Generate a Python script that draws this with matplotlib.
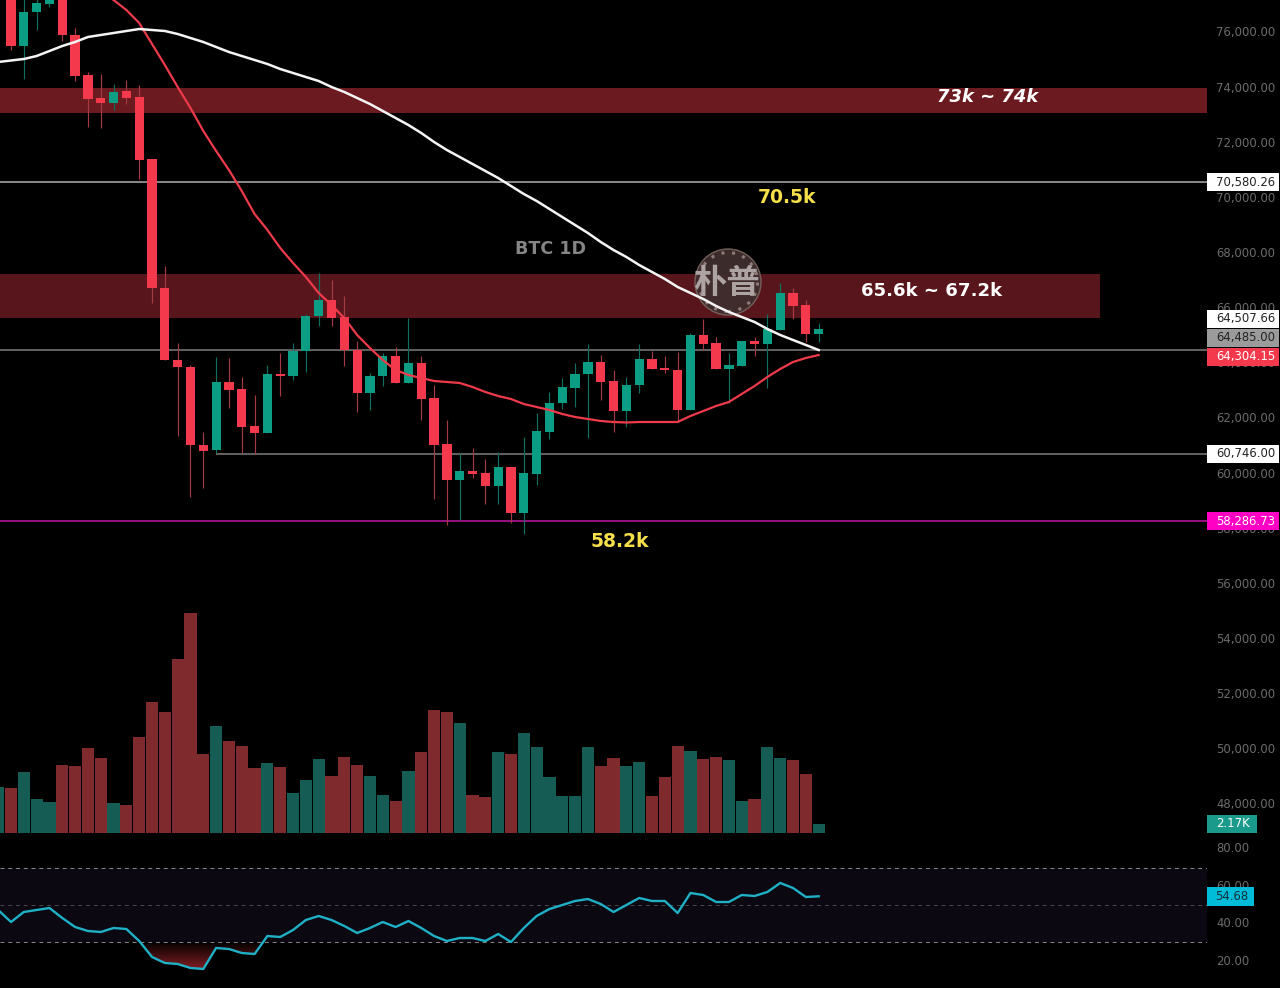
import numpy as np
import matplotlib
matplotlib.use("Agg")
import matplotlib.pyplot as plt
from matplotlib.patches import Rectangle, Circle
from matplotlib.transforms import blended_transform_factory

# Daily BTC candles, first session sits just above the visible window
opens = [78100, 77704, 75492, 76725, 77015, 77450, 75891, 74440, 73606, 73424, 73859, 73642, 71393, 66714,
         64103, 63849, 61020, 60838, 63305, 63051, 61709, 61455, 63595, 63522, 64429, 65699, 66279, 65662,
         64465, 62906, 63522, 64248, 63269, 63994, 62725, 61056, 59750, 60077, 60004, 59533, 60222, 58553,
         59968, 61491, 62543, 63087, 63595, 64030, 63341, 62253, 63196, 64139, 63813, 63740, 62289, 65010,
         64719, 63776, 63885, 64792, 64683, 65191, 66533, 66098, 65046]
highs = [79000, 78248, 77704, 77523, 77523, 77450, 76144, 74549, 74476, 74113, 74258, 74077, 71393, 67512,
         64719, 63921, 61491, 64212, 64175, 63486, 62833, 63921, 64357, 64719, 65771, 67258, 67004, 66424,
         64792, 63631, 64357, 64574, 65626, 64248, 63196, 61927, 60730, 60911, 60512, 60766, 60222, 61310,
         62180, 62942, 63450, 63994, 64683, 64284, 63740, 63486, 64683, 64429, 64248, 64393, 65082, 65590,
         64937, 64357, 64792, 64937, 65771, 66896, 66714, 66279, 65445]
lows = [77900, 75347, 74295, 76072, 76906, 75673, 74222, 72554, 72517, 73170, 73388, 70668, 66170, 64103,
        61346, 59134, 59460, 60730, 62362, 60730, 60693, 61455, 62797, 63377, 63668, 65336, 65336, 63885,
        62217, 62289, 63160, 63269, 63269, 61927, 59061, 58118, 58300, 59823, 58880, 58880, 58191, 57792,
        59569, 61237, 62326, 62398, 61274, 62652, 61491, 61673, 62906, 63776, 63631, 61854, 62289, 64465,
        63776, 62543, 63885, 64248, 63087, 65191, 65590, 64756, 64756]
closes = [78700, 75492, 76725, 77051, 77233, 75891, 74403, 73569, 73424, 73823, 73606, 71357, 66714, 64103,
          63849, 61020, 60802, 63305, 63015, 61673, 61455, 63595, 63522, 64429, 65699, 66279, 65626, 64465,
          62906, 63522, 64248, 63269, 63994, 62688, 61020, 59750, 60077, 59968, 59533, 60222, 58553, 60004,
          61528, 62543, 63124, 63595, 64030, 63305, 62253, 63196, 64139, 63776, 63740, 62289, 65010, 64683,
          63776, 63921, 64792, 64683, 65227, 66533, 66061, 65046, 65227]
volumes = [11.08, 10.84, 14.70, 8.19, 7.47, 16.39, 16.14, 20.48, 18.07, 7.23, 6.75, 23.13, 31.57, 29.16,
           41.93, 53.01, 19.04, 25.78, 22.17, 20.96, 15.66, 16.87, 15.90, 9.64, 12.77, 17.83, 13.73, 18.31,
           16.39, 13.73, 9.16, 7.71, 14.94, 19.52, 29.64, 29.16, 26.51, 9.16, 8.67, 19.52, 19.04, 24.10,
           20.72, 13.49, 8.92, 8.92, 20.72, 16.14, 18.07, 16.14, 17.11, 8.92, 13.49, 20.96, 19.76, 17.83,
           18.31, 17.59, 7.71, 8.19, 20.72, 18.07, 17.59, 14.22, 2.17]
slow_ma = [74911, 74966, 75020, 75129, 75310, 75492, 75637, 75818, 75891, 75963, 76036, 76108, 76072, 76036,
           75927, 75782, 75637, 75455, 75274, 75129, 74984, 74839, 74657, 74512, 74367, 74222, 74005, 73823,
           73606, 73388, 73134, 72880, 72626, 72336, 72010, 71719, 71466, 71212, 70958, 70704, 70414, 70124,
           69870, 69580, 69289, 68999, 68709, 68383, 68092, 67839, 67548, 67295, 67041, 66751, 66533, 66315,
           66061, 65844, 65662, 65481, 65227, 65010, 64828, 64647, 64465]
fast_ma = [77450, 77160, 76797, 76326, 75564, 74802, 74005, 73243, 72409, 71683, 70994, 70232, 69398, 68818,
           68165, 67621, 67113, 66533, 66098, 65626, 65010, 64538, 64103, 63740, 63559, 63450, 63341, 63305,
           63269, 63124, 62942, 62797, 62688, 62507, 62398, 62289, 62144, 62035, 61963, 61891, 61854, 61836,
           61854, 61854, 61854, 61854, 62072, 62253, 62435, 62580, 62870, 63160, 63487, 63776, 64030, 64175,
           64284]
rsi = [47.33, 40.90, 46.26, 47.33, 48.40, 43.04, 38.22, 36.08, 35.55, 37.69, 37.15, 30.72, 22.16, 18.94,
       18.40, 16.26, 15.73, 26.98, 26.44, 24.30, 23.76, 33.40, 32.87, 36.62, 41.97, 44.12, 41.97, 38.76,
       35.01, 37.69, 40.90, 38.22, 41.44, 37.69, 33.40, 30.72, 32.33, 32.33, 30.72, 34.47, 30.19, 37.69,
       44.12, 47.86, 50.00, 52.15, 53.22, 50.54, 46.26, 50.00, 53.76, 52.15, 52.15, 45.72, 56.43, 55.36,
       51.61, 51.61, 55.36, 54.83, 56.97, 61.79, 59.11, 54.29, 54.68]

price_ticks = list(range(48000, 78000, 2000))
rsi_ticks = [20, 40, 60, 80]
zones = [(73086, 74006, 93.3, "#6b1a20"), (65656, 67256, 84.95, "#58161c")]

# Series above were sampled against a scale 36 USD low; bring them onto the axis
FEED_ADJUST = 36
opens, highs, lows, closes = [np.array(a) + FEED_ADJUST for a in (opens, highs, lows, closes)]
slow_ma, fast_ma = [np.array(a) + FEED_ADJUST for a in (slow_ma, fast_ma)]

UP, DOWN = "#0b9e84", "#f5394c"
UP_WICK, DOWN_WICK = "#0d6f60", "#a63a44"
UP_VOL, DOWN_VOL = "#155c54", "#7f2b2d"
GREY = "#6c6c6c"
W, H = 1280, 988
PANE_W = 1207

plt.rcParams["font.family"] = ["DejaVu Sans"]
fig = plt.figure(figsize=(W / 100, H / 100), dpi=100, facecolor="black")


def pane(top, bottom):
    ax = fig.add_axes([0, 1 - bottom / H, PANE_W / W, (bottom - top) / H])
    ax.set_facecolor("none")
    for s in ax.spines.values():
        s.set_visible(False)
    ax.set_xlim(-0.858, 93.29)
    ax.set_xticks([])
    return ax


def style_right_ticks(ax, ticks, fmt):
    ax.yaxis.tick_right()
    ax.set_yticks(ticks)
    ax.set_yticklabels([fmt(t) for t in ticks], color=GREY, fontsize=8.4, va="center")
    ax.tick_params(axis="y", length=0, pad=6.5)


def tag(ax, y, text, bg, fg, height, width=72, text_x=38.5):
    tr = blended_transform_factory(ax.transAxes, ax.transData)
    ax.add_patch(Rectangle((1, y - height / 2), width / PANE_W, height, transform=tr, facecolor=bg,
                           edgecolor="none", clip_on=False, zorder=20))
    ax.text(1 + text_x / PANE_W, y, text, transform=tr, color=fg, fontsize=8.4, ha="center",
            va="center", zorder=21, clip_on=False)


idx = np.arange(-1, len(opens) - 1)
is_up = closes >= opens

# Price pane
ax = pane(0, 840)
ax.set_ylim(46729, 77196)
style_right_ticks(ax, price_ticks, lambda t: f"{t:,.2f}")

for lo, hi, xmax, col in zones:
    ax.fill_between([-0.858, xmax], lo, hi, color=col, lw=0, zorder=1)

ax.hlines(70580.26, -0.858, 93.29, color="#a0a0a0", lw=1.2, zorder=2)
ax.hlines(64485.00, -0.858, 93.29, color="#7d7d7d", lw=1.1, zorder=2)
ax.hlines(60746.00, 16, 93.29, color="#7d7d7d", lw=1.1, zorder=2)
ax.hlines(58286.73, -0.858, 93.29, color="#a4128e", lw=1.3, zorder=2)

ax.vlines(idx, lows, highs, colors=[UP_WICK if u else DOWN_WICK for u in is_up], lw=0.85, zorder=3)
body_lo = np.minimum(opens, closes)
body_h = np.abs(closes - opens)
ax.bar(idx, body_h, bottom=body_lo, width=0.72, color=[UP if u else DOWN for u in is_up], lw=0, zorder=4)

ax.plot(idx[-len(fast_ma):], fast_ma, color="#ee3a4a", lw=1.6, zorder=5, solid_joinstyle="round")

# Round badge behind the slow average
bx, by = 55.9, 66930
ax.add_patch(Circle((728, H - 282), 33, transform=None, facecolor="#3f2e2d", edgecolor="#77645f",
                    lw=1.0, zorder=5, alpha=0.95))
ax.add_patch(Circle((728, H - 282), 29.5, transform=None, facecolor="none", edgecolor="#8d7c78",
                    lw=2.2, ls=(0, (1, 2.5)), zorder=5))
ax.text(bx, by, "朴普", family=["Noto Sans CJK SC", "DejaVu Sans"], fontweight="bold", fontsize=24,
        color="#ada3a2", ha="center", va="center", zorder=5)

ax.plot(idx, slow_ma, color="#f4f4f4", lw=1.8, zorder=6, solid_joinstyle="round")

ax.text(76.2, 73680, "73k ~ 74k", color="white", fontsize=12.9, fontweight="bold", style="italic",
        ha="center", va="center", zorder=7)
ax.text(60.5, 70050, "70.5k", color="#f5e04a", fontsize=13.5, fontweight="bold", ha="center", va="center", zorder=7)
ax.text(42.1, 68165, "BTC 1D", color="#858585", fontsize=12.6, fontweight="bold", ha="center", va="center", zorder=7)
ax.text(71.8, 66640, "65.6k ~ 67.2k", color="white", fontsize=13.1, fontweight="bold", ha="center", va="center", zorder=7)
ax.text(47.5, 57540, "58.2k", color="#f5e04a", fontsize=13.5, fontweight="bold", ha="center", va="center", zorder=7)

TAG_H = 653
tag(ax, 70580.26, "70,580.26", "white", "#222222", TAG_H)
tag(ax, 65626, "64,507.66", "white", "#222222", TAG_H)
tag(ax, 64945, "64,485.00", "#9b9b9b", "#222222", TAG_H)
tag(ax, 64265, "64,304.15", "#f5394c", "white", TAG_H)
tag(ax, 60746, "60,746.00", "white", "#222222", TAG_H)
tag(ax, 58286.73, "58,286.73", "#ff00c4", "white", TAG_H)

# Volume histogram
vax = pane(600, 833)
vax.set_ylim(0, 56.14)
vax.set_yticks([])
vax.bar(idx, volumes, width=0.95, color=[UP_VOL if u else DOWN_VOL for u in is_up], lw=0)
tag(vax, 2.17, "2.17K", "#1a9a8a", "white", 4.4, width=50, text_x=26)

# RSI pane
rax = pane(840, 988)
rax.set_ylim(5.55, 84.82)
style_right_ticks(rax, rsi_ticks, lambda t: f"{t:.2f}")
rax.axhspan(30, 70, color="#0b0812", lw=0, zorder=1)
for level, col in ((70, "#8a8a8a"), (50, "#4a4a4a"), (30, "#8a8a8a")):
    rax.axhline(level, color=col, lw=0.7, dashes=(4, 4), zorder=2)

rsi_x = idx[:len(rsi)]
grad = np.zeros((64, 2, 4))
grad[..., 0] = 0.52
grad[..., 1] = 0.12
grad[..., 2] = 0.14
grad[..., 3] = np.linspace(0, 1, 64)[:, None]
img = rax.imshow(grad, extent=(-0.858, 93.29, 15, 30), origin="upper", aspect="auto", zorder=2,
                 interpolation="bilinear")
fill = rax.fill_between(rsi_x, rsi, 30, where=np.array(rsi) <= 30, interpolate=True, color="none", lw=0)
img.set_clip_path(fill.get_paths()[0], transform=rax.transData)
rax.set_xlim(-0.858, 93.29)
rax.set_ylim(5.55, 84.82)

rax.plot(rsi_x, rsi, color="#1fb0c6", lw=1.7, zorder=3, solid_joinstyle="round")
tag(rax, 54.68, "54.68", "#00bcd8", "#10303a", 10.2, width=47, text_x=25)

fig.savefig("out.png", dpi=100, facecolor="black")
